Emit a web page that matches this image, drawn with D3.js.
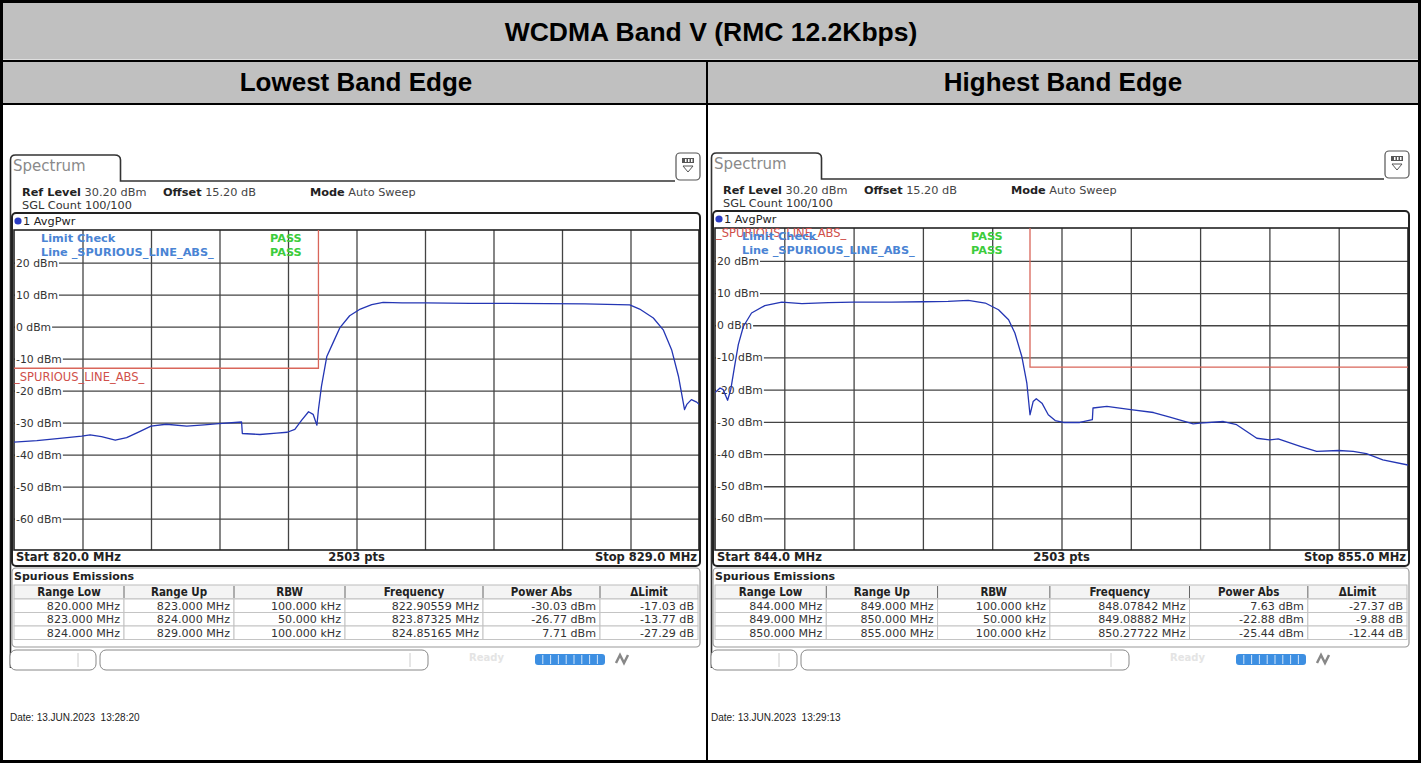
<!DOCTYPE html>
<html>
<head>
<meta charset="utf-8">
<script src="https://cdn.jsdelivr.net/npm/d3@7"></script>
<style>
  body { margin: 0; background: #fff; }
  svg { display: block; }
  .ui { font-family: "DejaVu Sans", Verdana, sans-serif; }
  .hdr { font-family: "Liberation Sans", Arial, sans-serif; font-weight: bold; }
</style>
</head>
<body>
<svg id="chart" width="1421" height="763"></svg>
<script>
"use strict";

// ---- data ----
const title = "WCDMA Band V (RMC 12.2Kbps)";
const panelTitles = ["Lowest Band Edge", "Highest Band Edge"];
const yTicks = [20, 10, 0, -10, -20, -30, -40, -50, -60];
const refLevel = 30.2;

// [MHz, dBm]
const lowTrace = [
  [820.00, -36.1], [820.30, -35.6], [820.60, -34.9], [820.89, -34.2], [821.00, -33.8],
  [821.15, -34.4], [821.33, -35.5], [821.48, -34.7], [821.65, -32.8], [821.80, -31.1],
  [822.00, -30.5], [822.27, -31.1], [822.50, -30.7], [822.69, -30.3], [822.99, -29.8],
  [823.00, -33.4], [823.23, -33.7], [823.45, -33.3], [823.59, -33.0], [823.69, -32.1],
  [823.78, -29.2], [823.87, -26.6], [823.93, -27.4], [823.98, -30.8], [824.00, -25.9],
  [824.04, -18.6], [824.11, -9.3], [824.20, -4.6], [824.28, -0.4], [824.41, 3.4],
  [824.55, 5.5], [824.70, 6.9], [824.85, 7.6], [825.10, 7.4], [825.40, 7.4],
  [826.00, 7.3], [826.50, 7.3], [827.00, 7.2], [827.50, 7.1], [828.09, 6.8],
  [828.22, 5.5], [828.40, 2.7], [828.53, -1.0], [828.64, -7.2], [828.73, -15.5],
  [828.81, -25.9], [828.84, -24.3], [828.90, -22.8], [828.97, -23.6], [829.00, -24.3]
];
const highTrace = [
  [844.00, -20.9], [844.08, -19.5], [844.13, -20.0], [844.20, -23.3], [844.25, -20.0],
  [844.32, -11.7], [844.37, -6.0], [844.45, -0.4], [844.58, 3.8], [844.79, 6.1],
  [845.06, 7.2], [845.38, 6.7], [845.80, 7.0], [846.20, 7.2], [846.80, 7.2],
  [847.30, 7.3], [847.70, 7.4], [848.02, 7.7], [848.29, 6.9], [848.50, 4.8],
  [848.66, 1.7], [848.76, -2.4], [848.87, -9.7], [848.95, -18.0], [849.00, -27.8],
  [849.05, -23.7], [849.10, -22.8], [849.19, -24.2], [849.29, -27.8], [849.40, -29.6],
  [849.53, -30.2], [849.79, -30.2], [849.99, -29.3], [850.00, -25.7], [850.22, -25.2],
  [850.60, -26.2], [850.96, -27.1], [851.22, -28.5], [851.59, -30.6], [851.70, -30.4],
  [852.07, -29.9], [852.28, -30.9], [852.60, -35.1], [852.80, -35.6], [852.94, -35.3],
  [853.29, -37.6], [853.55, -39.2], [853.90, -38.9], [854.13, -39.2], [854.34, -39.9],
  [854.60, -41.8], [855.00, -43.4]
];

const lowLimit = [[820, -13], [824, -13], [824, refLevel]];
const highLimit = [[849, refLevel], [849, -13], [855, -13]];

const tableHead = ["Range Low", "Range Up", "RBW", "Frequency", "Power Abs", "\u0394Limit"];
const lowRows = [
  ["820.000 MHz", "823.000 MHz", "100.000 kHz", "822.90559 MHz", "-30.03 dBm", "-17.03 dB"],
  ["823.000 MHz", "824.000 MHz", "50.000 kHz", "823.87325 MHz", "-26.77 dBm", "-13.77 dB"],
  ["824.000 MHz", "829.000 MHz", "100.000 kHz", "824.85165 MHz", "7.71 dBm", "-27.29 dB"]
];
const highRows = [
  ["844.000 MHz", "849.000 MHz", "100.000 kHz", "848.07842 MHz", "7.63 dBm", "-27.37 dB"],
  ["849.000 MHz", "850.000 MHz", "50.000 kHz", "849.08882 MHz", "-22.88 dBm", "-9.88 dB"],
  ["850.000 MHz", "855.000 MHz", "100.000 kHz", "850.27722 MHz", "-25.44 dBm", "-12.44 dB"]
];

const panels = [
  { start: 820, stop: 829, trace: lowTrace, limit: lowLimit, rows: lowRows,
    limitLabelAtTop: false, date: "Date: 13.JUN.2023  13:28:20" },
  { start: 844, stop: 855, trace: highTrace, limit: highLimit, rows: highRows,
    limitLabelAtTop: true, date: "Date: 13.JUN.2023  13:29:13" }
];

// ---- layout ----
const W = 1421, H = 763, divX = 707;
const FS = 11.3;
const layouts = [
  { gL: 14, gw: 685, gy: 230, gh: 320 },
  { gL: 715, gw: 693, gy: 228, gh: 322 }
];
const colFrac = [0, 110, 220, 331, 469, 586, 684].map(v => v / 684);

const svg = d3.select("#chart");

// outer report table
svg.append("rect").attr("x", 1.5).attr("y", 1.5).attr("width", W - 3).attr("height", 58)
  .attr("fill", "#c0c0c0");
svg.append("rect").attr("x", 1.5).attr("y", 61).attr("width", W - 3).attr("height", 43)
  .attr("fill", "#c0c0c0");
[61, 104].forEach(yy => {
  svg.append("line").attr("x1", 0).attr("x2", W).attr("y1", yy).attr("y2", yy)
    .attr("stroke", "#000").attr("stroke-width", 2);
});
svg.append("line").attr("x1", divX).attr("x2", divX).attr("y1", 61).attr("y2", H)
  .attr("stroke", "#000").attr("stroke-width", 2);
svg.append("rect").attr("x", 1.5).attr("y", 1.5).attr("width", W - 3).attr("height", H - 3)
  .attr("fill", "none").attr("stroke", "#000").attr("stroke-width", 3);

svg.append("text").attr("class", "hdr").attr("x", 711).attr("y", 41)
  .attr("text-anchor", "middle").attr("font-size", 26.5).text(title);
panelTitles.forEach((t, i) => {
  svg.append("text").attr("class", "hdr")
    .attr("x", i === 0 ? 356 : 1063).attr("y", 91)
    .attr("text-anchor", "middle").attr("font-size", 26).text(t);
});

function drawPanel(cfg, L) {
  const g = svg.append("g").attr("class", "ui");
  const gL = L.gL, gR = L.gL + L.gw, gy = L.gy, gB = L.gy + L.gh;
  const x = d3.scaleLinear().domain([cfg.start, cfg.stop]).range([gL, gR]);
  const y = d3.scaleLinear().domain([refLevel - 100, refLevel]).range([gB, gy]);

  // tab + frame
  const lx = gL - 3.5;
  g.append("path")
    .attr("d", `M${lx},${gB + 118} V${gy - 70} Q${lx},${gy - 75} ${lx + 5},${gy - 75} H${lx + 104} ` +
               `Q${lx + 110},${gy - 75} ${lx + 110},${gy - 70} V${gy - 49} H${gR - 24}`)
    .attr("fill", "none").attr("stroke", "#333").attr("stroke-width", 1.6);
  g.append("text").attr("x", gL - 1).attr("y", gy - 59).attr("font-size", 15)
    .attr("fill", "#8a8a8a").text("Spectrum");

  // small menu icon
  g.append("rect").attr("x", gR - 23).attr("y", gy - 77).attr("width", 24).attr("height", 27)
    .attr("rx", 4).attr("fill", "#fff").attr("stroke", "#555").attr("stroke-width", 1.2);
  g.append("rect").attr("x", gR - 17).attr("y", gy - 72).attr("width", 12).attr("height", 5)
    .attr("fill", "#555");
  [gR - 14, gR - 11, gR - 8].forEach(px => g.append("rect").attr("x", px).attr("y", gy - 71)
    .attr("width", 1.5).attr("height", 3).attr("fill", "#fff"));
  g.append("path").attr("d", `M${gR - 16},${gy - 64} H${gR - 6} L${gR - 11},${gy - 58} Z`)
    .attr("fill", "none").attr("stroke", "#555");

  // header info
  const info = g.append("text").attr("y", gy - 34).attr("font-size", FS).attr("fill", "#222");
  [["Ref Level", " 30.20 dBm", gL + 8], ["Offset", " 15.20 dB", gL + 149], ["Mode", " Auto Sweep", gL + 296]]
    .forEach(([b, n, px]) => {
      info.append("tspan").attr("x", px).attr("font-weight", "bold").text(b);
      info.append("tspan").attr("fill", "#444").text(n);
    });
  g.append("text").attr("x", gL + 8).attr("y", gy - 21).attr("font-size", FS)
    .attr("fill", "#333").text("SGL Count 100/100");

  // diagram box
  g.append("rect").attr("x", gL - 2).attr("y", gy - 17).attr("width", L.gw + 3)
    .attr("height", gB + 16 - (gy - 17)).attr("rx", 4)
    .attr("fill", "none").attr("stroke", "#222").attr("stroke-width", 2);
  g.append("circle").attr("cx", gL + 4).attr("cy", gy - 9).attr("r", 3.6).attr("fill", "#2a3cc4");
  g.append("text").attr("x", gL + 9).attr("y", gy - 5).attr("font-size", FS)
    .attr("fill", "#222").text("1 AvgPwr");

  // grid via axes
  const span = cfg.stop - cfg.start;
  const xGrid = d3.range(1, 10).map(i => cfg.start + span * i / 10);
  g.append("g").attr("transform", `translate(0,${gB})`)
    .call(d3.axisBottom(x).tickValues(xGrid).tickSize(-L.gh).tickFormat(""))
    .call(a => a.select(".domain").remove())
    .call(a => a.selectAll("line").attr("stroke", "#444").attr("stroke-width", 1.3));
  g.append("g").attr("transform", `translate(${gL},0)`)
    .call(d3.axisLeft(y).tickValues(yTicks).tickSize(-L.gw).tickFormat(""))
    .call(a => a.select(".domain").remove())
    .call(a => a.selectAll("line").attr("stroke", "#444").attr("stroke-width", 1.3));
  g.append("rect").attr("x", gL).attr("y", gy).attr("width", L.gw).attr("height", L.gh)
    .attr("fill", "none").attr("stroke", "#222").attr("stroke-width", 1.6);

  // y labels with white backing
  yTicks.forEach(v => {
    const t = g.append("text").attr("x", gL + 2).attr("y", y(v) + 4).attr("font-size", 10.8)
      .attr("fill", "#333").text(`${v} dBm`);
    const w = t.node().getComputedTextLength();
    g.insert("rect", () => t.node()).attr("x", gL + 1).attr("y", y(v) - 6)
      .attr("width", w + 2).attr("height", 12).attr("fill", "#fff");
  });

  // limit line
  const clip = `clip${cfg.start}`;
  g.append("clipPath").attr("id", clip).append("rect")
    .attr("x", gL).attr("y", gy).attr("width", L.gw).attr("height", L.gh);
  const line = d3.line().x(d => x(d[0])).y(d => y(d[1]));
  g.append("path").datum(cfg.limit).attr("d", line).attr("clip-path", `url(#${clip})`)
    .attr("fill", "none").attr("stroke", "#d9665a").attr("stroke-width", 1.3);
  const labelY = cfg.limitLabelAtTop ? gy + 9 : y(-13) + 13;
  g.append("text").attr("x", gL + (cfg.limitLabelAtTop ? 1 : 0)).attr("y", labelY)
    .attr("font-size", 11.5).attr("fill", "#d0504a").text("_SPURIOUS_LINE_ABS_");

  // limit check result
  g.append("text").attr("x", gL + 27).attr("y", gy + 12).attr("font-size", FS)
    .attr("font-weight", "bold").attr("fill", "#4a84d4").text("Limit Check");
  g.append("text").attr("x", gL + 27).attr("y", gy + 26).attr("font-size", FS)
    .attr("font-weight", "bold").attr("fill", "#4a84d4").text("Line _SPURIOUS_LINE_ABS_");
  [gy + 12, gy + 26].forEach(py => g.append("text").attr("x", gL + 256).attr("y", py)
    .attr("font-size", FS).attr("font-weight", "bold").attr("fill", "#3ccc3c").text("PASS"));

  // trace
  g.append("path").datum(cfg.trace).attr("d", line).attr("clip-path", `url(#${clip})`)
    .attr("fill", "none").attr("stroke", "#2436b4").attr("stroke-width", 1.3)
    .attr("stroke-linejoin", "round");

  // start / stop strip
  const bold = (tx, px, py, anchor) => g.append("text").attr("x", px).attr("y", py)
    .attr("font-size", 11.5).attr("font-weight", "bold").attr("fill", "#222")
    .attr("text-anchor", anchor).text(tx);
  bold(`Start ${cfg.start.toFixed(1)} MHz`, gL + 2, gB + 11, "start");
  bold("2503 pts", (gL + gR) / 2, gB + 11, "middle");
  bold(`Stop ${cfg.stop.toFixed(1)} MHz`, gR - 2, gB + 11, "end");

  // spurious emissions table
  g.append("rect").attr("x", gL - 2).attr("y", gB + 18).attr("width", L.gw + 3).attr("height", 79)
    .attr("rx", 4).attr("fill", "none").attr("stroke", "#9a9a9a").attr("stroke-width", 1.2);
  bold("Spurious Emissions", gL, gB + 30, "start").attr("font-size", 11);
  const cols = colFrac.map(f => gL + f * (L.gw - 1));
  const rowTop = gB + 35, headH = 14, rowH = 13.5;
  g.append("rect").attr("x", cols[0]).attr("y", rowTop).attr("width", cols[6] - cols[0])
    .attr("height", headH).attr("fill", "#f4f4f4").attr("stroke", "#bbb");
  tableHead.forEach((h, i) => {
    g.append("text").attr("x", (cols[i] + cols[i + 1]) / 2).attr("y", rowTop + 11)
      .attr("text-anchor", "middle").attr("font-size", 11.5).attr("font-weight", "bold")
      .attr("font-family", "'DejaVu Sans Condensed', 'DejaVu Sans', sans-serif")
      .attr("fill", "#222").text(h);
    if (i > 0) g.append("line").attr("x1", cols[i]).attr("x2", cols[i])
      .attr("y1", rowTop + 1).attr("y2", rowTop + headH - 1).attr("stroke", "#666");
  });
  cfg.rows.forEach((r, ri) => {
    const ry = rowTop + headH + ri * rowH;
    r.forEach((c, ci) => {
      g.append("rect").attr("x", cols[ci]).attr("y", ry).attr("width", cols[ci + 1] - cols[ci])
        .attr("height", rowH).attr("fill", "#fff").attr("stroke", "#c4c4c4");
      g.append("text").attr("x", cols[ci + 1] - 4).attr("y", ry + 10.5).attr("text-anchor", "end")
        .attr("font-size", 11.1).attr("fill", "#333").text(c);
    });
  });

  // status bar
  const sb = gB + 100;
  g.append("rect").attr("x", gL - 4).attr("y", sb).attr("width", 86).attr("height", 20).attr("rx", 6)
    .attr("fill", "#fff").attr("stroke", "#888");
  g.append("line").attr("x1", gL + 64).attr("x2", gL + 64).attr("y1", sb + 3).attr("y2", sb + 17)
    .attr("stroke", "#ccc");
  g.append("rect").attr("x", gL + 86).attr("y", sb).attr("width", 328).attr("height", 20).attr("rx", 6)
    .attr("fill", "#fff").attr("stroke", "#888");
  g.append("line").attr("x1", gL + 396).attr("x2", gL + 396).attr("y1", sb + 3).attr("y2", sb + 17)
    .attr("stroke", "#ccc");
  g.append("text").attr("x", gL + 455).attr("y", sb + 11).attr("font-size", 10)
    .attr("font-weight", "bold").attr("fill", "#e4e4e4").text("Ready");
  g.append("rect").attr("x", gL + 521).attr("y", sb + 4).attr("width", 70).attr("height", 11)
    .attr("rx", 3).attr("fill", "#3d8fe2");
  d3.range(1, 9).forEach(i => g.append("line").attr("x1", gL + 521 + i * 7.8).attr("x2", gL + 521 + i * 7.8)
    .attr("y1", sb + 5).attr("y2", sb + 14).attr("stroke", "#cfe4fa").attr("stroke-width", 1));
  g.append("path").attr("d", `M${gL + 602},${sb + 13} L${gL + 606},${sb + 5} L${gL + 610},${sb + 13} L${gL + 614},${sb + 5}`)
    .attr("fill", "none").attr("stroke", "#888").attr("stroke-width", 2.5);

  // date stamp
  g.append("text").attr("x", gL - 4).attr("y", gB + 171).attr("font-size", 10)
    .attr("font-family", "'Liberation Sans', Arial, sans-serif").attr("fill", "#222")
    .attr("xml:space", "preserve").style("white-space", "pre").text(cfg.date);
}

panels.forEach((p, i) => drawPanel(p, layouts[i]));
</script>
</body>
</html>
